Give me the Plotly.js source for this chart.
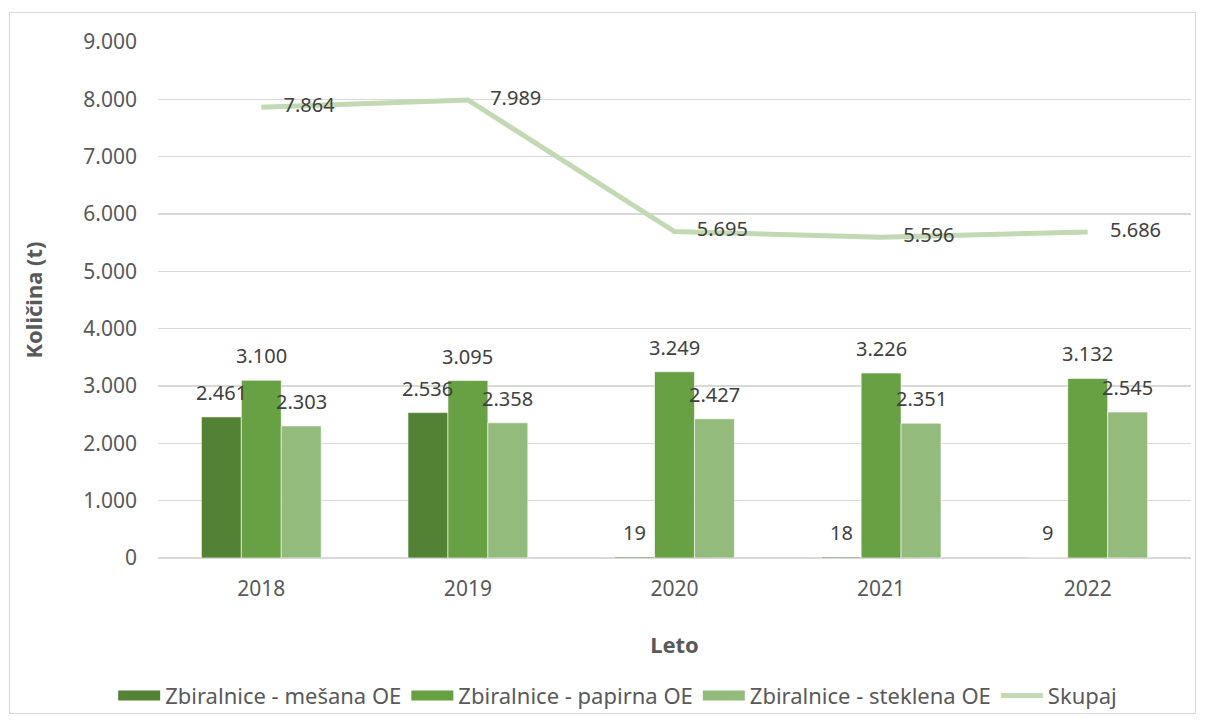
<!DOCTYPE html>
<html>
<head>
<meta charset="utf-8">
<script src="https://cdn.plot.ly/plotly-3.0.1.min.js"></script>
<style>
html,body{margin:0;padding:0;background:#fff;}
#frame{position:absolute;left:9px;top:12px;width:1187px;height:702px;border:1.5px solid #d9d9d9;box-sizing:border-box;}
#chart{position:absolute;left:0;top:0;width:1205px;height:722px;}
</style>
</head>
<body>
<div id="frame"></div>
<div id="chart"></div>
<script>
const years = ['2018','2019','2020','2021','2022'];
const mesana = [2461, 2536, 19, 18, 9];
const papirna = [3100, 3095, 3249, 3226, 3132];
const steklena = [2303, 2358, 2427, 2351, 2545];
const skupaj = [7864, 7989, 5695, 5596, 5686];
const seriesNames = ['Zbiralnice - mešana OE','Zbiralnice - papirna OE','Zbiralnice - steklena OE','Skupaj'];
const barColors = ['#548235', '#67a143', '#93bb7c'];
const lineColor = '#c2dab3';

const fontFam = '"Noto Sans", "Open Sans", sans-serif';
const labelFont = {family: fontFam, size: 20, color: '#404040'};
const BARGAP = 0.42;

const barSeries = [mesana, papirna, steklena];
const data = [];

// bars (legend entries drawn by wide-swatch proxies below)
barSeries.forEach((vals, i) => {
  data.push({
    type:'bar', name:seriesNames[i], x:years, y:vals, legendgroup:'g'+i, showlegend:false,
    marker:{color:barColors[i], line:{color:'rgba(255,255,255,0.6)', width:1}},
    hoverinfo:'skip'
  });
});
// legend proxies: wide rectangular swatches like the original
barSeries.forEach((vals, i) => {
  data.push({
    type:'scatter', mode:'lines', name:seriesNames[i], legendgroup:'g'+i, legendrank:i+1,
    x:[null], y:[null], line:{color:barColors[i], width:13}, hoverinfo:'skip'
  });
});
data.push({
  type:'scatter', mode:'lines+markers+text', name:seriesNames[3], x:years, y:skupaj, legendrank:4,
  line:{color:lineColor, width:5},
  marker:{size:34, color:'rgba(0,0,0,0)'},
  texttemplate:'%{y:,.0f}', textposition:'middle right',
  textfont: labelFont, cliponaxis:false, hoverinfo:'skip'
});

// value labels above bars, placed on the axis scale at each bar's slot in the group
const barW = (1 - BARGAP) / barSeries.length;
const fmt = v => v.toString().replace(/\B(?=(\d{3})+(?!\d))/g, '.');
const annotations = [];
barSeries.forEach((vals, i) => {
  vals.forEach((v, j) => {
    annotations.push({
      xref:'x', yref:'y', x: j + (i - 1) * barW, y: v,
      text: fmt(v), showarrow:false, yanchor:'bottom', xanchor:'center',
      yshift: 9, font: labelFont
    });
  });
});

const layout = {
  width:1205, height:722,
  paper_bgcolor:'rgba(0,0,0,0)', plot_bgcolor:'rgba(0,0,0,0)',
  separators:',.',
  margin:{l:158, r:14, t:42, b:164, autoexpand:false},
  barmode:'group', bargap:BARGAP, bargroupgap:0,
  font:{family:fontFam, color:'#595959', size:21},
  xaxis:{
    type:'category', showgrid:false, zeroline:false, showline:false, automargin:false,
    ticks:'', ticklabelstandoff:16, tickfont:{family:fontFam, size:21, color:'#595959'},
    title:{text:'<b>Leto</b>', font:{family:fontFam, size:22, color:'#595959'}, standoff:36}
  },
  yaxis:{
    range:[0,9000], dtick:1000, tickformat:',.0f', automargin:false,
    showgrid:true, gridcolor:'#d9d9d9', gridwidth:1.5,
    zeroline:true, zerolinecolor:'#d9d9d9', zerolinewidth:1.5,
    showline:false, ticks:'', ticklabelstandoff:20,
    tickfont:{family:fontFam, size:21, color:'#595959'},
    title:{text:'<b>Količina (t)</b>', font:{family:fontFam, size:22, color:'#595959'}, standoff:34}
  },
  legend:{
    orientation:'h', x:0.445, xanchor:'center',
    y:-0.226, yanchor:'top',
    font:{family:fontFam, size:22, color:'#595959'},
    itemwidth:42, traceorder:'normal'
  },
  annotations: annotations,
  showlegend:true
};

Plotly.newPlot('chart', data, layout, {displayModeBar:false, staticPlot:true});
</script>
</body>
</html>
